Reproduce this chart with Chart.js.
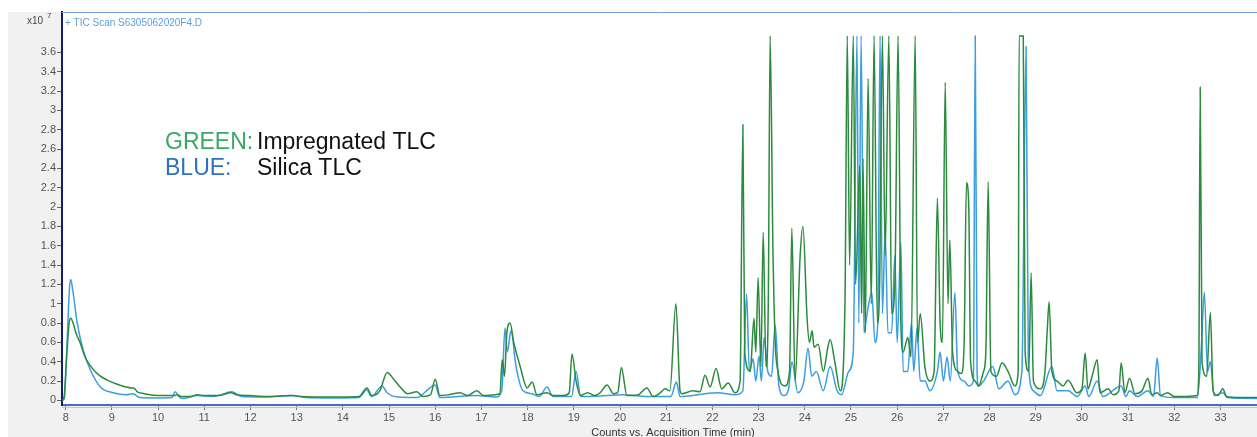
<!DOCTYPE html>
<html>
<head>
<meta charset="utf-8">
<script src="https://cdn.jsdelivr.net/npm/chart.js@4/dist/chart.umd.min.js"></script>
<style>
  html, body { margin: 0; padding: 0; background: #ffffff; }
  #wrap { width: 1257px; height: 437px; position: relative; }
</style>
</head>
<body>
<div id="wrap"><canvas id="tic"></canvas></div>
<script>
// TIC chromatograms, counts in units of 1e7, acquisition time in minutes.
// Impregnated TLC extract (green trace)
const greenTime = [
  7.92, 7.96, 8.02, 8.08, 8.11, 8.16, 8.22, 8.31, 8.42, 8.53, 8.7, 8.9, 9.1, 9.3, 9.42, 9.47, 9.55, 9.7, 9.9,
  10.1, 10.35, 10.42, 10.5, 10.7, 10.85, 11.0, 11.3, 11.58, 11.7, 12.0, 12.4, 12.9, 13.1, 13.5, 14.0, 14.35,
  14.52, 14.63, 14.8, 14.96, 15.1, 15.24, 15.4, 15.6, 15.74, 15.9, 16.0, 16.1, 16.3, 16.54, 16.7, 16.9, 17.05,
  17.3, 17.4, 17.45, 17.5, 17.55, 17.62, 17.7, 17.84, 17.99, 18.1, 18.2, 18.42, 18.55, 18.77, 18.9, 18.96,
  19.05, 19.14, 19.3, 19.45, 19.57, 19.72, 19.86, 19.95, 20.03, 20.15, 20.4, 20.58, 20.72, 20.85, 20.98,
  21.08, 21.21, 21.3, 21.34, 21.58, 21.73, 21.84, 21.95, 22.08, 22.2, 22.34, 22.49, 22.6, 22.66, 22.7,
  22.82, 22.9, 22.94, 22.99, 23.05, 23.1, 23.16, 23.21, 23.25, 23.31, 23.36, 23.42, 23.57, 23.67, 23.72,
  23.79, 23.9, 23.96, 24.05, 24.1, 24.16, 24.2, 24.29, 24.4, 24.5, 24.55, 24.65, 24.77, 24.87, 24.92,
  24.97, 25.05, 25.1, 25.19, 25.23, 25.26, 25.31, 25.37, 25.44, 25.5, 25.57, 25.62, 25.68, 25.74, 25.82,
  25.88, 25.95, 26.02, 26.08, 26.13, 26.23, 26.3, 26.39, 26.44, 26.5, 26.6, 26.71, 26.8, 26.87, 26.93,
  26.98, 27.04, 27.1, 27.14, 27.2, 27.31, 27.39, 27.45, 27.5, 27.55, 27.59, 27.69, 27.76, 27.87, 27.92,
  27.97, 28.03, 28.15, 28.27, 28.4, 28.55, 28.62, 28.64, 28.73, 28.77, 28.85, 28.9, 28.95, 29.1, 29.2,
  29.25, 29.29, 29.35, 29.46, 29.59, 29.7, 29.89, 30.0, 30.07, 30.13, 30.22, 30.33, 30.39, 30.57, 30.67,
  30.8, 30.85, 30.93, 31.03, 31.15, 31.3, 31.43, 31.51, 31.63, 31.7, 31.85, 32.0, 32.19, 32.49, 32.53,
  32.56, 32.6, 32.7, 32.78, 32.84, 32.94, 33.05, 33.13, 33.4, 33.79
];
const greenCounts = [
  0.0, 0.02, 0.45, 0.82, 0.85, 0.8, 0.7, 0.6, 0.45, 0.36, 0.27, 0.21, 0.17, 0.14, 0.13, 0.13, 0.09, 0.07, 0.055,
  0.05, 0.05, 0.06, 0.04, 0.04, 0.06, 0.05, 0.05, 0.08, 0.06, 0.05, 0.04, 0.05, 0.04, 0.035, 0.035, 0.04,
  0.13, 0.05, 0.1, 0.29, 0.22, 0.14, 0.07, 0.09, 0.04, 0.06, 0.22, 0.05, 0.06, 0.08, 0.05, 0.1, 0.05,
  0.06, 0.07, 0.42, 0.25, 0.7, 0.8, 0.6, 0.35, 0.13, 0.19, 0.06, 0.08, 0.05, 0.05, 0.08, 0.48,
  0.2, 0.05, 0.08, 0.05, 0.08, 0.16, 0.07, 0.08, 0.34, 0.05, 0.06, 0.13, 0.04, 0.07, 0.12,
  0.1, 1.0, 0.1, 0.07, 0.1, 0.09, 0.26, 0.14, 0.33, 0.12, 0.18, 0.08, 0.2, 2.85, 0.5,
  0.3, 0.85, 0.5, 1.27, 0.35, 1.74, 0.35, 1.0, 3.77, 1.58, 0.6, 0.3, 0.15, 0.3, 1.78,
  0.2, 1.5, 1.8, 0.85, 0.6, 0.72, 0.55, 0.58, 0.3, 0.55, 0.63, 0.4, 0.1, 1.0, 3.77,
  1.4, 3.77, 1.2, 2.43, 0.9, 2.5, 0.7, 3.33, 1.0, 3.77, 0.8, 1.2, 3.77, 1.5, 3.77,
  0.9, 1.2, 3.77, 0.8, 0.5, 0.65, 0.45, 3.77, 0.6, 0.9, 0.35, 0.2, 0.3, 2.09, 0.8,
  0.6, 3.29, 1.0, 1.66, 0.5, 0.3, 0.28, 0.6, 2.25, 2.0, 0.4, 0.2, 0.15, 0.3, 0.5,
  2.26, 0.3, 0.25, 0.39, 0.3, 0.15, 0.3, 3.77, 3.77, 0.5, 0.3, 1.32, 0.2, 0.12, 0.3,
  0.73, 1.02, 0.3, 0.2, 0.15, 0.21, 0.08, 0.12, 0.49, 0.12, 0.25, 0.42, 0.08, 0.12, 0.06,
  0.1, 0.39, 0.08, 0.23, 0.07, 0.1, 0.23, 0.06, 0.08, 0.05, 0.08, 0.04, 0.04, 0.05, 0.3,
  3.24, 0.4, 0.25, 0.91, 0.1, 0.05, 0.12, 0.04, 0.03, 0.03
];

// Silica TLC extract (blue trace)
const blueTime = [
  7.92, 7.97, 8.03, 8.08, 8.11, 8.15, 8.25, 8.38, 8.53, 8.75, 9.03, 9.3, 9.46, 9.6, 10.0, 10.3, 10.37, 10.45,
  10.55, 10.84, 11.2, 11.6, 11.8, 12.3, 12.92, 13.2, 13.8, 14.35, 14.52, 14.62, 14.85, 14.96, 15.2, 15.6,
  16.0, 16.1, 16.9, 17.3, 17.44, 17.51, 17.56, 17.64, 17.75, 17.9, 18.1, 18.25, 18.42, 18.55, 18.95, 19.05,
  19.15, 19.7, 20.05, 20.6, 21.1, 21.22, 21.3, 21.85, 22.1, 22.5, 22.66, 22.74, 22.8, 22.88, 22.94, 23.01,
  23.06, 23.12, 23.2, 23.28, 23.36, 23.44, 23.55, 23.65, 23.72, 23.85, 23.98, 24.07, 24.15, 24.25, 24.4,
  24.55, 24.7, 24.8, 24.95, 25.05, 25.13, 25.17, 25.22, 25.28, 25.35, 25.45, 25.52, 25.58, 25.63, 25.68,
  25.74, 25.8, 25.88, 25.95, 26.0, 26.08, 26.13, 26.23, 26.31, 26.36, 26.43, 26.5, 26.6, 26.71, 26.87,
  26.93, 27.0, 27.08, 27.15, 27.25, 27.31, 27.45, 27.55, 27.65, 27.69, 27.73, 27.76, 27.87, 28.07, 28.2,
  28.4, 28.55, 28.7, 28.79, 28.84, 28.95, 29.1, 29.35, 29.46, 29.7, 29.9, 30.07, 30.15, 30.33, 30.45,
  30.85, 30.95, 31.03, 31.2, 31.43, 31.55, 31.63, 31.7, 32.0, 32.5, 32.58, 32.65, 32.72, 32.78, 32.86,
  33.05, 33.15, 33.79
];
const blueCounts = [
  0.0, 0.02, 0.6, 1.15, 1.25, 1.15, 0.8, 0.52, 0.32, 0.14, 0.08, 0.06, 0.07, 0.03, 0.025, 0.03, 0.09, 0.04,
  0.02, 0.05, 0.04, 0.09, 0.04, 0.035, 0.05, 0.03, 0.025, 0.03, 0.11, 0.04, 0.15, 0.08, 0.035, 0.03,
  0.16, 0.03, 0.05, 0.035, 0.1, 0.75, 0.5, 0.72, 0.35, 0.1, 0.07, 0.04, 0.14, 0.04, 0.04, 0.3,
  0.04, 0.05, 0.06, 0.04, 0.04, 0.19, 0.04, 0.07, 0.08, 0.06, 0.1, 1.1, 0.3, 0.43, 0.2, 0.46,
  0.2, 0.65, 0.3, 0.25, 0.78, 0.15, 0.05, 0.12, 0.4, 0.08, 0.2, 0.54, 0.25, 0.3, 0.1,
  0.35, 0.1, 0.06, 0.3, 0.5, 3.77, 0.8, 3.77, 0.7, 0.9, 1.12, 0.6, 0.8, 3.77, 0.9,
  1.74, 0.7, 0.7, 1.5, 0.6, 1.64, 0.3, 0.3, 0.8, 0.3, 0.75, 0.2, 0.2, 0.1, 0.3,
  0.5, 0.2, 0.45, 0.2, 1.12, 0.3, 0.2, 0.15, 0.2, 3.77, 0.3, 0.15, 0.2, 0.35, 0.12,
  0.2, 0.06, 0.3, 3.66, 0.4, 0.1, 0.05, 0.35, 0.1, 0.1, 0.04, 0.15, 0.04, 0.2, 0.04,
  0.15, 0.04, 0.1, 0.04, 0.1, 0.04, 0.44, 0.05, 0.03, 0.03, 0.5, 1.12, 0.3, 0.4, 0.05,
  0.08, 0.03, 0.02
];

// Axis ticks
const xTickValues = [8, 9, 10, 11, 12, 13, 14, 15, 16, 17, 18, 19, 20, 21, 22, 23, 24, 25, 26, 27, 28, 29, 30, 31, 32, 33];
const yTickValues = [0, 0.2, 0.4, 0.6, 0.8, 1, 1.2, 1.4, 1.6, 1.8, 2, 2.2, 2.4, 2.6, 2.8, 3, 3.2, 3.4, 3.6];
const yTickLabels = ['0', '0.2', '0.4', '0.6', '0.8', '1', '1.2', '1.4', '1.6', '1.8', '2', '2.2', '2.4', '2.6', '2.8', '3', '3.2', '3.4', '3.6'];

// Text
const scanTitle = '+ TIC Scan S6305062020F4.D';
const xAxisTitle = 'Counts vs. Acquisition Time (min)';
const keyRows = [
  { tag: 'GREEN:', tagColor: '#3aa865', text: 'Impregnated TLC' },
  { tag: 'BLUE:', tagColor: '#2d72c2', text: 'Silica TLC' }
];

const toPoints = (xs, ys) => xs.map((x, i) => ({ x: x, y: ys[i] }));

const FONT = '"Liberation Sans", Arial, sans-serif';

const framePlugin = {
  id: 'frame',
  beforeDraw(chart) {
    const { ctx, chartArea: a, width, height } = chart;
    ctx.save();
    ctx.fillStyle = '#f1f1f1';
    ctx.fillRect(0, 0, width, height);
    ctx.fillStyle = '#ffffff';
    ctx.fillRect(0, 0, width, a.top);
    ctx.fillRect(0, 0, 8, height);
    ctx.fillRect(a.left, a.top, a.right - a.left, a.bottom - a.top);
    ctx.restore();
  },
  afterDraw(chart) {
    const { ctx, chartArea: a } = chart;
    ctx.save();
    // top frame line of the plot
    ctx.strokeStyle = '#6f9fe0';
    ctx.lineWidth = 1;
    ctx.beginPath();
    ctx.moveTo(a.left, a.top + 0.5);
    ctx.lineTo(a.right, a.top + 0.5);
    ctx.stroke();
    // lighter line under the x axis
    ctx.strokeStyle = '#b8c8e8';
    ctx.beginPath();
    ctx.moveTo(a.left, a.bottom + 2.5);
    ctx.lineTo(a.right, a.bottom + 2.5);
    ctx.stroke();

    // y multiplier
    ctx.fillStyle = '#444';
    ctx.textBaseline = 'alphabetic';
    ctx.textAlign = 'left';
    ctx.font = '10px ' + FONT;
    ctx.fillText('x10', 27, 24);
    ctx.font = '8px ' + FONT;
    ctx.fillText('7', 47, 18);

    // scan title
    ctx.fillStyle = '#5c9ee0';
    ctx.font = '10px ' + FONT;
    ctx.fillText(scanTitle, 65, 26);

    // key
    ctx.font = '23px ' + FONT;
    keyRows.forEach((row, i) => {
      const y = 149 + i * 26;
      ctx.fillStyle = row.tagColor;
      ctx.fillText(row.tag, 165, y);
      ctx.fillStyle = '#111';
      ctx.fillText(row.text, 257, y);
    });

    // x axis title
    ctx.fillStyle = '#333';
    ctx.font = '11px ' + FONT;
    ctx.textAlign = 'center';
    ctx.fillText(xAxisTitle, 673, 436);
    ctx.restore();
  }
};

new Chart(document.getElementById('tic'), {
  type: 'line',
  data: {
    datasets: [
      {
        label: 'Impregnated TLC',
        data: toPoints(greenTime, greenCounts),
        borderColor: '#2b8a3e',
        borderWidth: 1.5,
        pointRadius: 0,
        cubicInterpolationMode: 'monotone',
        order: 0
      },
      {
        label: 'Silica TLC',
        data: toPoints(blueTime, blueCounts),
        borderColor: '#3a9ee0',
        borderWidth: 1.5,
        pointRadius: 0,
        cubicInterpolationMode: 'monotone',
        order: 1
      }
    ]
  },
  options: {
    responsive: true,
    maintainAspectRatio: false,
    animation: false,
    layout: { padding: { top: 12, left: 0, right: 0, bottom: 0 } },
    plugins: { legend: { display: false }, tooltip: { enabled: false } },
    scales: {
      x: {
        type: 'linear',
        min: 7.92,
        max: 33.79,
        afterBuildTicks(scale) { scale.ticks = xTickValues.map(v => ({ value: v })); },
        afterFit(scale) { scale.height = 32; },
        grid: { drawOnChartArea: false, drawTicks: true, tickLength: 5, color: '#777' },
        border: { display: true, color: '#4a6cc4', width: 2 },
        ticks: {
          autoSkip: false, maxRotation: 0, padding: 1,
          color: '#555', font: { family: FONT, size: 11 },
          callback: v => String(v)
        }
      },
      y: {
        min: -0.047,
        max: 4.017,
        afterBuildTicks(scale) { scale.ticks = yTickValues.map(v => ({ value: v })); },
        afterFit(scale) { scale.width = 62; },
        grid: { drawOnChartArea: false, drawTicks: true, tickLength: 5, color: '#666' },
        border: { display: true, color: '#161a70', width: 2 },
        ticks: {
          autoSkip: false, padding: 1,
          color: '#555', font: { family: FONT, size: 11 },
          callback: v => yTickLabels[yTickValues.findIndex(t => Math.abs(t - v) < 1e-6)]
        }
      }
    }
  },
  plugins: [framePlugin]
});
</script>
</body>
</html>
